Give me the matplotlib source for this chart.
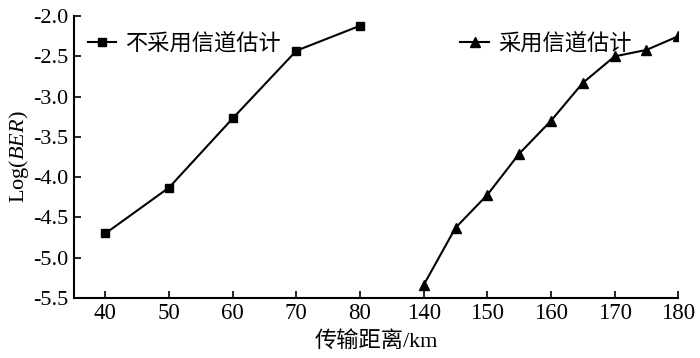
import matplotlib
matplotlib.use('Agg')
import matplotlib.pyplot as plt
import numpy as np

plt.rcParams['font.family'] = ['Liberation Serif', 'Noto Sans CJK SC']
plt.rcParams['mathtext.fontset'] = 'custom'
plt.rcParams['mathtext.rm'] = 'Liberation Serif'
plt.rcParams['mathtext.it'] = 'Liberation Serif:italic'

# data
dist_no_est = [40, 50, 60, 70, 80]
ber_no_est = [-4.70, -4.13, -3.27, -2.43, -2.12]
dist_est = [140, 145, 150, 155, 160, 165, 170, 175, 180]
ber_est = [-5.34, -4.63, -4.22, -3.71, -3.30, -2.83, -2.50, -2.42, -2.25]
xticks = [40, 50, 60, 70, 80, 140, 150, 160, 170, 180]
yticks = [-5.5, -5.0, -4.5, -4.0, -3.5, -3.0, -2.5, -2.0]


# broken axis: 80 -> 140 squeezed into one tick step
def fwd(x):
    x = np.asarray(x, dtype=float)
    return np.where(x <= 80, x, np.where(x >= 140, x - 50, 80 + (x - 80) / 6))


def inv(y):
    y = np.asarray(y, dtype=float)
    return np.where(y <= 80, y, np.where(y >= 90, y + 50, 80 + (y - 80) * 6))


fig = plt.figure(figsize=(7, 3.58), dpi=100)
ax = fig.add_axes([0.106, 0.168, 0.863, 0.787])
ax.set_xscale('function', functions=(fwd, inv))

l1, = ax.plot(dist_no_est, ber_no_est, color='black', lw=1.5, marker='s', markersize=5.5)
l2, = ax.plot(dist_est, ber_est, color='black', lw=1.5, marker='^', markersize=6.5)

ax.set_xlim(35.1, 180)
ax.set_ylim(-5.5, -2.0)
ax.set_xticks(xticks)
ax.set_xticklabels([str(t) for t in xticks])
ax.set_yticks(yticks)
ax.set_yticklabels(['%.1f' % t for t in yticks])
ax.tick_params(direction='in', length=5, width=1.2, labelsize=16, pad=4)
ax.tick_params(axis='x', labelsize=16.5)
for s in ['top', 'right']:
    ax.spines[s].set_visible(False)
for s in ['left', 'bottom']:
    ax.spines[s].set_linewidth(1.5)

ax.set_xlabel('传输距离/km', fontsize=16, labelpad=5)
ax.set_ylabel('Log($\\mathit{BER}$)', fontsize=16, labelpad=2)

leg1 = ax.legend([l1], ['不采用信道估计'], loc='upper left', bbox_to_anchor=(0.0, 0.985),
                 frameon=False, fontsize=16, handlelength=1.3, handletextpad=0.4,
                 borderaxespad=0.2)
ax.add_artist(leg1)
ax.legend([l2], ['采用信道估计'], loc='upper left', bbox_to_anchor=(0.617, 0.985),
          frameon=False, fontsize=16, handlelength=1.3, handletextpad=0.4,
          borderaxespad=0.2)

fig.savefig('out.png', dpi=100)
